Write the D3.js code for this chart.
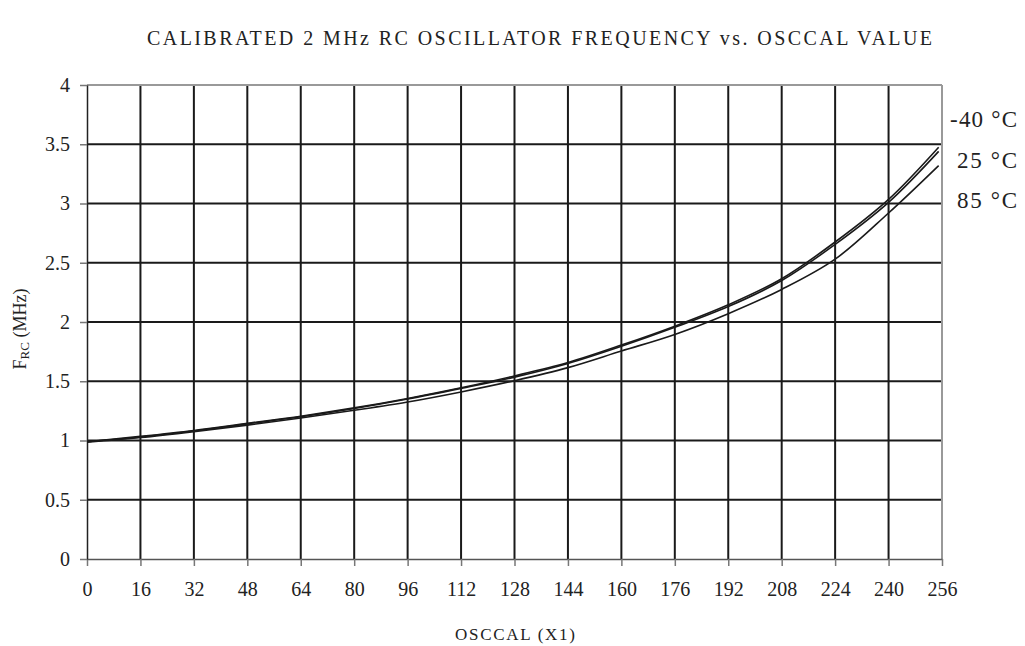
<!DOCTYPE html>
<html><head><meta charset="utf-8">
<script src="https://cdn.jsdelivr.net/npm/d3@7"></script>
<style>body{margin:0;background:#fff}svg{display:block}text{font-family:"Liberation Serif","Times New Roman",serif;fill:#222}</style>
</head><body>
<svg id="c" width="1025" height="646"></svg>
<script>
const osccal = [0,16,32,48,64,80,96,112,128,144,160,176,192,208,224,240,255];
const fM40 = [0.99,1.035,1.085,1.145,1.205,1.275,1.355,1.445,1.545,1.658,1.805,1.965,2.145,2.365,2.675,3.035,3.475];
const f25  = [0.99,1.03,1.08,1.14,1.20,1.27,1.35,1.44,1.535,1.65,1.795,1.955,2.13,2.35,2.655,3.01,3.44];
const f85  = [0.985,1.025,1.075,1.13,1.19,1.255,1.325,1.41,1.505,1.615,1.755,1.895,2.07,2.275,2.53,2.92,3.32];
const seriesNames = ["-40 °C","25 °C","85 °C"];
const xTicks = d3.range(0,257,16);
const yTicks = [0,0.5,1,1.5,2,2.5,3,3.5,4];
const yTickLabels = ["0","0.5","1","1.5","2","2.5","3","3.5","4"];
const title = "CALIBRATED 2 MHz RC OSCILLATOR FREQUENCY vs. OSCCAL VALUE";
const xTitle = "OSCCAL (X1)";

const svg = d3.select("#c");
const L=87,R=942,T=85,B=559;
const x = d3.scaleLinear().domain([0,256]).range([L,R]);
const y = d3.scaleLinear().domain([0,4]).range([B,T]);

svg.append("g").selectAll("line").data(yTicks.filter(v=>v>0&&v<4)).join("line")
  .attr("x1",L).attr("x2",R).attr("y1",d=>y(d)).attr("y2",d=>y(d))
  .attr("stroke","#1a1a1a").attr("stroke-width",2);
svg.append("g").selectAll("line").data(xTicks.filter(v=>v>0&&v<256)).join("line")
  .attr("y1",T).attr("y2",B).attr("x1",d=>x(d)).attr("x2",d=>x(d))
  .attr("stroke","#1a1a1a").attr("stroke-width",2);
svg.append("line").attr("x1",L).attr("x2",R).attr("y1",T).attr("y2",T).attr("stroke","#999").attr("stroke-width",2);
svg.append("line").attr("x1",R).attr("x2",R).attr("y1",T).attr("y2",B).attr("stroke","#999").attr("stroke-width",2);

const xAxis = d3.axisBottom(x).tickValues(xTicks).tickSize(7).tickPadding(16).tickSizeOuter(0);
const gx = svg.append("g").attr("transform",`translate(0,${B})`).call(xAxis);
gx.select(".domain").attr("stroke","#555").attr("stroke-width",1.5);
gx.selectAll(".tick line").attr("stroke","#777").attr("stroke-width",1.5);
gx.selectAll("text").attr("font-size",20).attr("fill","#222").attr("font-family","Liberation Serif, serif");

const yAxis = d3.axisLeft(y).tickValues(yTicks).tickFormat((d,i)=>yTickLabels[i]).tickSize(7).tickPadding(10).tickSizeOuter(0);
const gy = svg.append("g").attr("transform",`translate(${L},0)`).call(yAxis);
gy.select(".domain").attr("stroke","#222").attr("stroke-width",1.5);
gy.selectAll(".tick line").attr("stroke","#777").attr("stroke-width",1.5);
gy.selectAll("text").attr("font-size",20).attr("fill","#222").attr("font-family","Liberation Serif, serif");

const line = d3.line().x((d,i)=>x(osccal[i])).y(d=>y(d)).curve(d3.curveCatmullRom.alpha(0.5));
[fM40,f25,f85].forEach(s=>{
  svg.append("path").attr("d",line(s)).attr("fill","none").attr("stroke","#1a1a1a").attr("stroke-width",1.6);
});

const labY=[127,168,208];
const labW=[67,60,60];
svg.append("g").selectAll("text").data(seriesNames).join("text")
  .attr("x",(d,i)=>1017-labW[i]).attr("y",(d,i)=>labY[i])
  .attr("font-size",23).attr("textLength",(d,i)=>labW[i]).attr("lengthAdjust","spacing").text(d=>d);

svg.append("text").attr("x",147).attr("y",45).attr("font-size",20)
  .attr("textLength",785).attr("lengthAdjust","spacing").text(title);

svg.append("text").attr("x",455).attr("y",640).attr("font-size",17)
  .attr("textLength",120).attr("lengthAdjust","spacing").text(xTitle);

const yt = svg.append("text").attr("transform","translate(26,329) rotate(-90)").attr("text-anchor","middle").attr("font-size",18);
yt.append("tspan").text("F");
yt.append("tspan").attr("font-size",13).attr("dy",3).text("RC");
yt.append("tspan").attr("dy",-3).text(" (MHz)");
</script>
</body></html>
